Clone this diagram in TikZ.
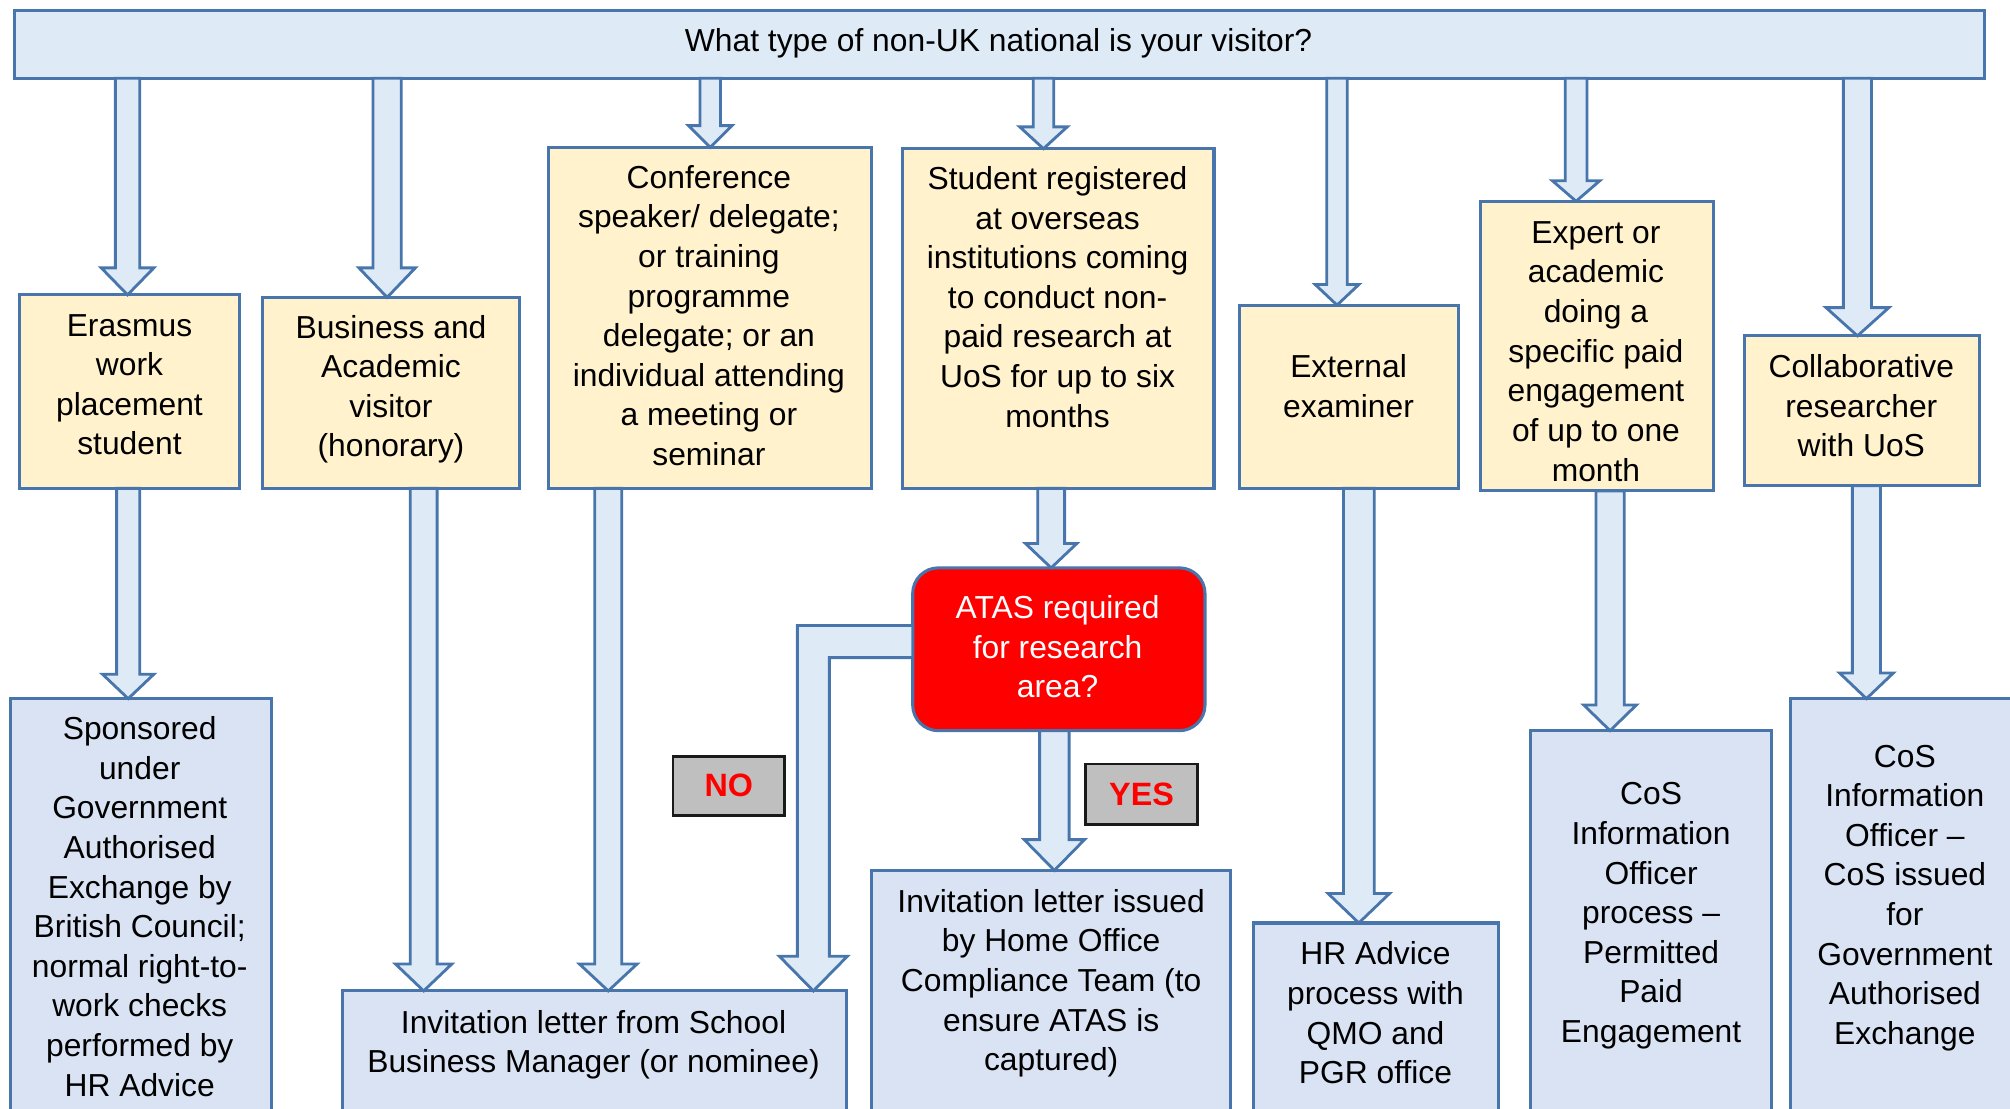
\documentclass[tikz,border=0pt]{standalone}
\usepackage{fontspec}
\setmainfont{Liberation Sans}
\usetikzlibrary{calc}
\definecolor{bord}{HTML}{4775AC}
\definecolor{topfill}{HTML}{DEEBF7}
\definecolor{yfill}{HTML}{FFF2CC}
\definecolor{bfill}{HTML}{DAE3F3}
\definecolor{lblfill}{HTML}{BFBFBF}
\definecolor{lblbord}{HTML}{1A1A1A}
\newcommand\st{\rule[-0.24em]{0pt}{1em}}
% block arrow: #1 x (display units), #2 from anchor, #3 to anchor, #4 half shaft (pt), #5 half head (pt), #6 head length (pt)
\newcommand\barrow[6]{%
  \path[arrowshape] let \p1=(#2), \p2=(#3), \p3=(#1,0) in
    (\x3-#4pt,\y1) -- (\x3-#4pt,\y2+#6pt) -- (\x3-#5pt,\y2+#6pt) -- (\x3,\y2)
    -- (\x3+#5pt,\y2+#6pt) -- (\x3+#4pt,\y2+#6pt) -- (\x3+#4pt,\y1) -- cycle;}
\tikzset{
  box/.style={draw=bord, line width=1.2pt, inner sep=0pt, outer sep=0pt, anchor=north west},
  topbox/.style={box, fill=topfill},
  ybox/.style={box, fill=yfill},
  bbox/.style={box, fill=bfill},
  redbox/.style={box, fill=red, rounded corners=10pt},
  lbl/.style={draw=lblbord, line width=1pt, fill=lblfill, inner sep=0pt, outer sep=0pt, anchor=north west,
     font=\fontsize{12.6}{15}\selectfont\bfseries, text=red},
  txt/.style={align=center, inner sep=0pt, yshift=-1.3pt, font=\fontsize{12.4}{15.45}\selectfont},
  arrowshape/.style={draw=bord, fill=topfill, line width=1.1pt, line join=miter},
}
\begin{document}
\begin{tikzpicture}[x=0.5pt, y=-0.5pt]
\useasboundingbox (0,0) rectangle (1568,865);
\clip (0,0) rectangle (1568,865);
% boxes
\node[topbox, minimum width=768.5pt, minimum height=26.5pt] (top) at (11,8) {};
\node[ybox, minimum width=86pt, minimum height=75.5pt] (eras) at (15,230) {};
\node[ybox, minimum width=100pt, minimum height=74.5pt] (busi) at (205,232) {};
\node[ybox, minimum width=126pt, minimum height=133pt] (conf) at (428,115) {};
\node[ybox, minimum width=121.5pt, minimum height=132.5pt] (stud) at (704,116) {};
\node[ybox, minimum width=85.5pt, minimum height=71.5pt] (ext) at (967,238) {};
\node[ybox, minimum width=91pt, minimum height=113pt] (exp) at (1155,157) {};
\node[ybox, minimum width=91.5pt, minimum height=58.5pt] (coll) at (1361,262) {};
\node[redbox, minimum width=114pt, minimum height=63.5pt] (atas) at (712,443) {};
\node[bbox, minimum width=102pt, minimum height=200pt] (spons) at (8,545) {};
\node[bbox, minimum width=196.5pt, minimum height=100pt] (inv1) at (267,773) {};
\node[bbox, minimum width=140pt, minimum height=150pt] (inv2) at (680,679) {};
\node[bbox, minimum width=95.5pt, minimum height=120pt] (hr) at (978,720) {};
\node[bbox, minimum width=94pt, minimum height=200pt] (cos1) at (1194,570) {};
\node[bbox, minimum width=92pt, minimum height=200pt] (cos2) at (1397,545) {};
\node[lbl, minimum width=43.5pt, minimum height=23pt] (no) at (525,590) {NO};
\node[lbl, minimum width=43.5pt, minimum height=23.5pt] (yes) at (847,596) {YES};
% texts
\node[txt] (top-t) at (779,31) {\st What type of non-UK national is your visitor?\st};
\node[txt] (eras-t) at (101,299.5) {\st Erasmus\\work\\placement\\student\st};
\node[txt] (busi-t) at (305,301) {\st Business and\\Academic\\visitor\\(honorary)\st};
\node[txt] (conf-t) at (553,246) {\st Conference\\speaker/ delegate;\\or training\\programme\\delegate; or an\\individual attending\\a meeting or\\seminar\st};
\node[txt] (stud-t) at (825,231.5) {\st Student registered\\at overseas\\institutions coming\\to conduct non-\\paid research at\\UoS for up to six\\months\st};
\node[txt] (ext-t) at (1052,301) {\st External\\examiner\st};
\node[txt] (exp-t) at (1245,273.5) {\st Expert or\\academic\\doing a\\specific paid\\engagement\\of up to one\\month\st};
\node[txt] (coll-t) at (1452,316.5) {\st Collaborative\\researcher\\with UoS\st};
\node[txt, text=white] (atas-t) at (825,504.5) {\st ATAS required\\for research\\area?\st};
\node[txt] (spons-t) at (109,707) {\st Sponsored\\under\\Government\\Authorised\\Exchange by\\British Council;\\normal right-to-\\work checks\\performed by\\HR Advice\st};
\node[txt] (inv1-t) at (463,812.5) {\st Invitation letter from School\\Business Manager (or nominee)\st};
\node[txt] (inv2-t) at (820,764.5) {\st Invitation letter issued\\by Home Office\\Compliance Team (to\\ensure ATAS is\\captured)\st};
\node[txt] (hr-t) at (1073,790) {\st HR Advice\\process with\\QMO and\\PGR office\st};
\node[txt] (cos1-t) at (1288,711.5) {\st CoS\\Information\\Officer\\process –\\Permitted\\Paid\\Engagement\st};
\node[txt] (cos2-t) at (1486,697.5) {\st CoS\\Information\\Officer –\\CoS issued\\for\\Government\\Authorised\\Exchange\st};
% arrows from the question
\barrow{99.5}{top.south}{eras.north}{4.75}{10.25}{10.5}
\barrow{302}{top.south}{busi.north}{5.5}{11}{11.5}
\barrow{554}{top.south}{conf.north}{4}{8.5}{8.5}
\barrow{814}{top.south}{stud.north}{4}{9.25}{8.5}
\barrow{1043}{top.south}{ext.north}{4}{8.5}{8}
\barrow{1229.5}{top.south}{exp.north}{4.25}{9.25}{8}
\barrow{1449}{top.south}{coll.north}{5.5}{12.25}{11}
% arrows to outcomes
\barrow{100}{eras.south}{spons.north}{4.5}{10}{9.5}
\barrow{330.5}{busi.south}{inv1.north}{5.25}{11}{10.5}
\barrow{474.5}{conf.south}{inv1.north}{5.25}{11.25}{10.5}
\barrow{820}{stud.south}{atas.north}{5.25}{10}{9.5}
\barrow{822.5}{atas.south}{inv2.north}{5.75}{11.75}{12}
\barrow{1060}{ext.south}{hr.north}{6}{12}{11.5}
\barrow{1256}{exp.south}{cos1.north}{5.5}{10.25}{10}
\barrow{1456}{coll.south}{cos2.north}{5.5}{10.5}{10}
% NO elbow arrow from ATAS to school invitation
\path[arrowshape] let \p1=(atas.west), \p2=(inv1.north), \p3=(634.5,488), \p4=(647,513) in
  (\x1,\y3) -- (\x3-6.25pt,\y3) -- (\x3-6.25pt,\y2+13.5pt) -- (\x3-13.25pt,\y2+13.5pt) -- (\x3,\y2)
  -- (\x3+13.25pt,\y2+13.5pt) -- (\x3+6.25pt,\y2+13.5pt) -- (\x3+6.25pt,\y4) -- (\x1,\y4) -- cycle;
\end{tikzpicture}
\end{document}
